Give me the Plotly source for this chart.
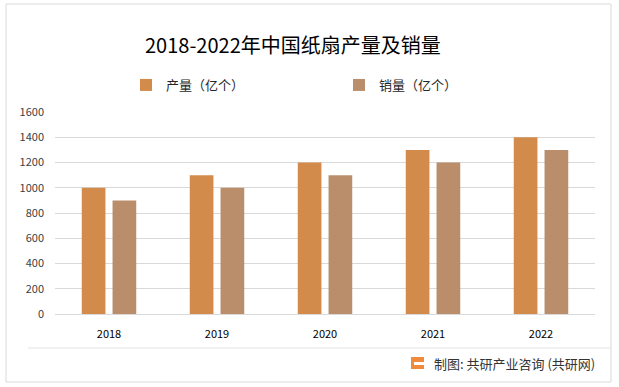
import plotly.graph_objects as go

years = ["2018", "2019", "2020", "2021", "2022"]
production = [1000, 1100, 1200, 1300, 1400]
sales = [900, 1000, 1100, 1200, 1300]
series_names = ["产量（亿个）", "销量（亿个）"]
y_ticks = [0, 200, 400, 600, 800, 1000, 1200, 1400, 1600]

W, H = 619, 387
L, R, T, B = 55, 24, 112, 73
pw, ph = W - L - R, H - T - B


def px_x(px):
    return (px - L) / pw


def px_y(py):
    return (H - B - py) / ph


fig = go.Figure()
fig.add_trace(go.Bar(x=years, y=production, name=series_names[0],
                     marker=dict(color="#D38B4C", line=dict(width=0))))
fig.add_trace(go.Bar(x=years, y=sales, name=series_names[1],
                     marker=dict(color="#BB8E6B", line=dict(width=0))))

font_family = "Noto Sans CJK SC, Noto Sans, sans-serif"

shapes = [
    # outer border
    dict(type="rect", xref="paper", yref="paper", x0=px_x(6), x1=px_x(611),
         y0=px_y(382), y1=px_y(4), line=dict(color="#D9D9D9", width=1), layer="below"),
    # footer separator
    dict(type="line", xref="paper", yref="paper", x0=px_x(28), x1=px_x(611),
         y0=px_y(348), y1=px_y(348), line=dict(color="#E3E3E3", width=1)),
    # logo
    dict(type="rect", xref="paper", yref="paper", x0=px_x(411), x1=px_x(424),
         y0=px_y(369), y1=px_y(357), fillcolor="#F08A3C", line=dict(width=0)),
    dict(type="rect", xref="paper", yref="paper", x0=px_x(414), x1=px_x(424),
         y0=px_y(365), y1=px_y(362), fillcolor="white", line=dict(width=0)),
]

annotations = [
    dict(text="2018-2022年中国纸扇产量及销量", xref="paper", yref="paper",
         x=px_x(293), y=px_y(45), xanchor="center", yanchor="middle", showarrow=False,
         font=dict(size=20, color="#000000", family=font_family)),
    dict(text="制图: 共研产业咨询 (共研网)", xref="paper", yref="paper",
         x=px_x(432), y=px_y(363), xanchor="left", yanchor="middle", showarrow=False,
         font=dict(size=13, color="#333333", family=font_family)),
]

# faint watermarks
wm_positions = [(110, 55), (330, 130), (560, 55), (90, 250), (330, 250), (560, 250), (330, 360)]
for (wx, wy) in wm_positions:
    annotations.append(dict(text="<b>共研产业咨询</b>", xref="paper", yref="paper",
                            x=px_x(wx), y=px_y(wy), showarrow=False, textangle=-12,
                            font=dict(size=24, color="rgba(0,0,0,0.025)", family=font_family)))

fig.update_layout(
    width=W, height=H,
    margin=dict(l=L, r=R, t=T, b=B, autoexpand=False),
    paper_bgcolor="white", plot_bgcolor="white",
    barmode="group", bargap=0.43, bargroupgap=0.23,
    showlegend=True,
    legend=dict(orientation="h", x=px_x(126), y=px_y(85), xanchor="left", yanchor="middle",
                font=dict(size=13, color="#262626", family=font_family),
                entrywidth=168, entrywidthmode="pixels", itemwidth=30,
                bgcolor="rgba(0,0,0,0)"),
    xaxis=dict(showgrid=False, showline=True, linecolor="#D9D9D9", linewidth=1,
               tickfont=dict(size=11, color="#000000", family=font_family),
               ticks="", ticklabelstandoff=10, fixedrange=True),
    yaxis=dict(range=[0, 1600], tickvals=y_ticks, showgrid=True, gridcolor="#D9D9D9",
               gridwidth=1, zeroline=False, showline=False,
               tickfont=dict(size=11, color="#404040", family=font_family),
               ticklabelstandoff=10, fixedrange=True),
    shapes=shapes, annotations=annotations,
)

fig.write_html("out.html", config={"displayModeBar": False},
               post_script="document.body.style.margin='0';")
